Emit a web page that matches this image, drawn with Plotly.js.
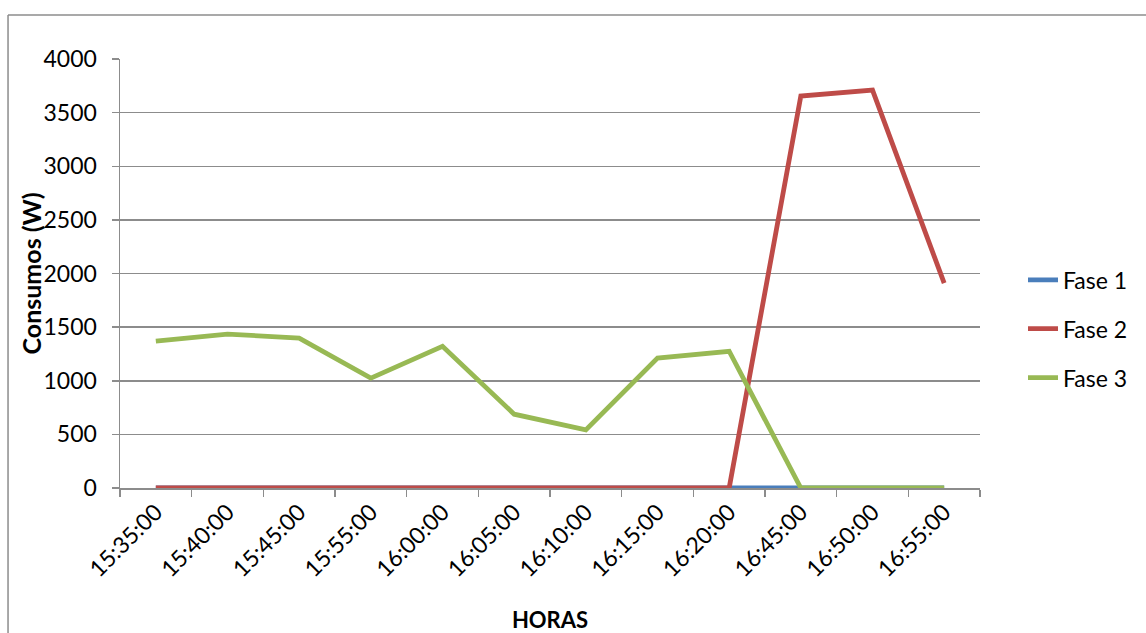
<!DOCTYPE html>
<html>
<head>
<meta charset="utf-8">
<script src="https://cdn.plot.ly/plotly-3.0.1.min.js"></script>
<style>
  html, body { margin: 0; padding: 0; background: #fff; }
  #chart { width: 1146px; height: 633px; }
</style>
</head>
<body>
<div id="chart"></div>
<script>
// Sampling times (category axis)
const horas = ["15:35:00", "15:40:00", "15:45:00", "15:55:00", "16:00:00", "16:05:00",
               "16:10:00", "16:15:00", "16:20:00", "16:45:00", "16:50:00", "16:55:00"];

// Power consumption per phase (W)
const fase1 = [0, 0, 0, 0, 0, 8, 0, 0, 0, 0, 0, 0];
const fase2 = [0, 0, 0, 0, 0, 0, 0, 0, 0, 3655, 3710, 1910];
const fase3 = [1370, 1435, 1398, 1025, 1322, 688, 542, 1212, 1275, 0, 0, 0];

const yTicks = [0, 500, 1000, 1500, 2000, 2500, 3000, 3500, 4000];

const FONT = "Lato, 'Open Sans', sans-serif";
const GRID = "#8c8c8c";

function serie(name, y, color, group) {
  return {
    type: "scatter", mode: "lines", name: name, x: horas, y: y,
    line: { color: color, width: 4.8 },
    legendgroup: group, hoverinfo: "x+y+name"
  };
}

const data = [
  serie("Fase 1", fase1, "#4a7ebb", "g1"),
  serie("Fase 2", fase2, "#be4b48", "g2"),
  serie("Fase 3", fase3, "#98b954", "g3")
];

const layout = {
  width: 1146, height: 633,
  margin: { l: 120, r: 166, t: 59, b: 145, autoexpand: false },
  paper_bgcolor: "#fff", plot_bgcolor: "#fff",
  font: { family: FONT, size: 23, color: "#000" },
  showlegend: true,
  legend: {
    x: 1.05, xanchor: "left", y: 0.371, yanchor: "middle",
    traceorder: "grouped", tracegroupgap: 16,
    font: { family: FONT, size: 23, color: "#000" },
    bgcolor: "rgba(0,0,0,0)"
  },
  xaxis: {
    type: "category", range: [-0.5, 11.5],
    tickson: "boundaries", ticks: "outside", ticklen: 7, tickwidth: 1.5, tickcolor: GRID,
    showgrid: false, showline: true, linecolor: GRID, linewidth: 1.5,
    tickangle: -45, tickfont: { family: FONT, size: 23 },
    title: { text: "<b>HORAS</b>", font: { family: FONT, size: 22 }, standoff: 37 },
    fixedrange: true
  },
  yaxis: {
    range: [0, 4000], tickvals: yTicks, ticktext: yTicks.map(String),
    ticks: "outside", ticklen: 7, tickwidth: 1.5, tickcolor: GRID,
    showgrid: true, gridcolor: GRID, gridwidth: 1.5,
    zeroline: true, zerolinecolor: GRID, zerolinewidth: 1.5,
    showline: true, linecolor: GRID, linewidth: 1.5,
    ticklabelstandoff: 10,
    tickfont: { family: FONT, size: 23 },
    fixedrange: true
  },
  annotations: [
    // vertical axis title, set close to the tick labels
    { text: "<b>Consumos (W)</b>", xref: "paper", yref: "paper",
      x: -0.1035, y: 0.5, xanchor: "center", yanchor: "middle",
      textangle: -90, showarrow: false, font: { family: FONT, size: 25, color: "#000" } }
  ],
  shapes: [
    // chart frame (top and left edges)
    { type: "line", xref: "paper", yref: "paper", x0: -0.1302, x1: 1.25, y0: 1.1026, y1: 1.1026,
      line: { color: GRID, width: 1.5 } },
    { type: "line", xref: "paper", yref: "paper", x0: -0.1302, x1: -0.1302, y0: 1.1026, y1: -0.4,
      line: { color: GRID, width: 1.5 } }
  ]
};

Plotly.newPlot("chart", data, layout, { displayModeBar: false, staticPlot: true });
</script>
</body>
</html>
